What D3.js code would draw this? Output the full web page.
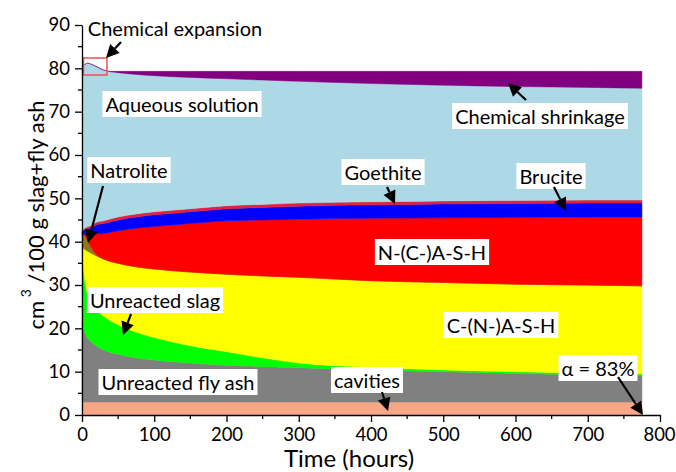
<!DOCTYPE html>
<html><head><meta charset="utf-8">
<script src="https://cdn.jsdelivr.net/npm/d3@7"></script>
<style>
html,body{margin:0;padding:0;background:#fff;}
svg{display:block;font-family:Lato,"Open Sans",sans-serif;}
</style></head>
<body><svg id="chart" width="676" height="472"></svg>
<script>
// Time points (hours)
const times      = [0, 2, 5, 8, 12, 20, 30, 40, 50, 75, 100, 150, 200, 250, 300, 400, 500, 600, 700, 775];
// Volume of each phase (cm3 / 100 g slag+fly ash), bottom to top
const cavities   = [3.0, 3.0, 3.0, 3.0, 3.0, 3.0, 3.0, 3.0, 3.0, 3.0, 3.0, 3.0, 3.0, 3.0, 3.0, 3.0, 3.0, 3.0, 3.0, 3.0];
const flyAsh     = [18.3, 17.0, 15.6, 14.7, 14.0, 12.9, 12.0, 11.4, 11.0, 10.2, 9.7, 9.0, 8.5, 8.2, 7.9, 7.4, 7.0, 6.6, 6.3, 6.1];
const slag       = [17.2, 14.0, 11.4, 10.3, 9.5, 8.4, 7.8, 7.3, 6.8, 5.9, 5.2, 4.0, 3.1, 2.0, 1.1, 0.6, 0.4, 0.4, 0.4, 0.4];
const cnash      = [0.0, 4.4, 8.1, 9.8, 10.9, 12.4, 13.2, 13.7, 14.2, 15.1, 15.8, 17.0, 17.9, 18.9, 19.8, 20.0, 20.2, 20.2, 20.3, 20.3];
const natrolite  = [3.0, 3.2, 3.0, 2.4, 1.4, 0.3, 0.0, 0.0, 0.0, 0.0, 0.0, 0.0, 0.0, 0.0, 0.0, 0.0, 0.0, 0.0, 0.0, 0.0];
const ncash      = [0.0, 0.1, 0.5, 1.3, 2.6, 4.8, 5.9, 6.8, 7.5, 8.9, 9.8, 11.2, 12.3, 12.9, 13.4, 14.4, 14.9, 15.4, 15.7, 15.9];
const brucite    = [0.6, 0.9, 1.2, 1.5, 1.8, 2.1, 2.3, 2.4, 2.5, 2.6, 2.7, 2.7, 2.8, 2.9, 3.0, 3.1, 3.2, 3.2, 3.2, 3.2];
const goethite   = [0.2, 0.3, 0.4, 0.5, 0.5, 0.6, 0.6, 0.7, 0.7, 0.7, 0.7, 0.7, 0.7, 0.7, 0.7, 0.7, 0.7, 0.7, 0.7, 0.7];
const aqueous    = [37.7, 37.7, 37.8, 37.7, 37.3, 35.9, 34.8, 33.9, 33.3, 32.2, 31.4, 30.3, 29.3, 28.7, 28.1, 27.3, 26.7, 26.3, 26.0, 25.8];
const shrinkage  = [0.0, 0.0, 0.0, 0.0, 0.0, 0.0, 0.0, 0.1, 0.3, 0.7, 1.0, 1.4, 1.7, 2.0, 2.3, 2.8, 3.2, 3.5, 3.7, 3.9];

const layerKeys   = ["cavities","flyAsh","slag","cnash","natrolite","ncash","brucite","goethite","aqueous","shrinkage"];
const layerSeries = [cavities, flyAsh, slag, cnash, natrolite, ncash, brucite, goethite, aqueous, shrinkage];
const layerColors = ["#f7a688","#808080","#00ff00","#ffff00","#8a7a10","#ff0000","#0000ff","#e0223c","#add8e6","#800080"];

const xTicks = [0,100,200,300,400,500,600,700,800];
const yTicks = [0,10,20,30,40,50,60,70,80,90];

const svg = d3.select("#chart");
const x = d3.scaleLinear().domain([0,800]).range([82,660]);
const y = d3.scaleLinear().domain([0,90]).range([415,25]);

const rows = times.map((t,i)=>{
  const r = {t};
  layerKeys.forEach((k,j)=>r[k]=layerSeries[j][i]);
  return r;
});
const stacked = d3.stack().keys(layerKeys)(rows);
const area = d3.area().x(d=>x(d.data.t)).y0(d=>y(d[0])).y1(d=>y(d[1])).curve(d3.curveMonotoneX);

svg.append("g").selectAll("path").data(stacked).join("path")
  .attr("d", area).attr("fill",(d,i)=>layerColors[i]).attr("stroke",(d,i)=>layerColors[i]).attr("stroke-width",0.5);

// red box for chemical expansion
svg.append("rect").attr("x",83.5).attr("y",58).attr("width",23.5).attr("height",17)
  .attr("fill","none").attr("stroke","#f05050").attr("stroke-width",1.5);

// axes
const xAxis = d3.axisBottom(x).tickValues(xTicks).tickSize(7).tickSizeOuter(0).tickFormat(d3.format("d"));
const gx = svg.append("g").attr("transform","translate(0,415)").call(xAxis);
const yAxis = d3.axisLeft(y).tickValues(yTicks).tickSize(7).tickSizeOuter(0).tickFormat(d3.format("d"));
const gy = svg.append("g").attr("transform","translate(82,0)").call(yAxis);
[gx,gy].forEach(g=>{
  g.select(".domain").attr("stroke","#000").attr("stroke-width",1.3);
  g.selectAll(".tick line").attr("stroke","#000").attr("stroke-width",1.3);
  g.selectAll(".tick text").attr("font-family","Lato, sans-serif").attr("font-size",18.5).attr("fill","#000");
});
gx.selectAll(".tick text").attr("dy","0.85em");
gx.selectAll(".tick text").filter(d=>d===800).attr("dx","-1");
gy.selectAll(".tick text").attr("dx","-2");
// minor ticks
const minorX = [50,150,250,350,450,550,650,750];
const minorY = [5,15,25,35,45,55,65,75,85];
svg.append("g").selectAll("line").data(minorX).join("line")
  .attr("x1",d=>x(d)).attr("x2",d=>x(d)).attr("y1",415).attr("y2",419).attr("stroke","#000").attr("stroke-width",1.3);
svg.append("g").selectAll("line").data(minorY).join("line")
  .attr("y1",d=>y(d)).attr("y2",d=>y(d)).attr("x1",82).attr("x2",78).attr("stroke","#000").attr("stroke-width",1.3);

// axis titles
svg.append("text").attr("x",349).attr("y",457).attr("text-anchor","middle").attr("dominant-baseline","central")
  .attr("font-size",24).text("Time (hours)");
const yt = svg.append("text").attr("transform","translate(35,215) rotate(-90)").attr("text-anchor","middle")
  .attr("dominant-baseline","central").attr("font-size",22);
yt.append("tspan").text("cm");
yt.append("tspan").attr("font-size",14).attr("dy",-10).text(" 3");
yt.append("tspan").attr("dy",10).text(" /100 g slag+fly ash");

// labels
const labels = [
  {t:"Chemical expansion", x:175, y:28, bg:false},
  {t:"Aqueous solution", x:182, y:104, bg:true},
  {t:"Chemical shrinkage", x:540, y:116, bg:true},
  {t:"Natrolite", x:129, y:170, bg:true},
  {t:"Goethite", x:383, y:172, bg:true},
  {t:"Brucite", x:551, y:176, bg:true},
  {t:"N-(C-)A-S-H", x:432, y:252, bg:true},
  {t:"Unreacted slag", x:155, y:300, bg:true},
  {t:"C-(N-)A-S-H", x:501, y:325, bg:true},
  {t:"Unreacted fly ash", x:178, y:382, bg:true},
  {t:"cavities", x:367, y:380, bg:true},
  {t:"\u03b1 = 83%", x:598, y:368, bg:true}
];
const lg = svg.append("g");
labels.forEach(l=>{
  const g = lg.append("g");
  const tx = g.append("text").attr("x",l.x).attr("y",l.y).attr("text-anchor","middle")
    .attr("dominant-baseline","central").attr("font-size",20).attr("fill","#000").text(l.t);
  if(l.bg){
    const b = tx.node().getBBox();
    g.insert("rect","text").attr("x",b.x-3).attr("y",b.y-1).attr("width",b.width+6).attr("height",b.height+2).attr("fill","#fff");
  }
});

// arrows
const arrows = [
  [121,42,106,58],
  [526,100,508,83],
  [103,186,88,243],
  [387,187,395,204],
  [554,187,566,211],
  [131,314,123,335],
  [382,392,388,411],
  [618,377,643,415]
];
const ag = svg.append("g");
arrows.forEach(a=>{
  const [x1,y1,x2,y2] = a;
  const ang = Math.atan2(y2-y1,x2-x1);
  const L = 13, W = 6.5;
  const bx = x2 - L*Math.cos(ang), by = y2 - L*Math.sin(ang);
  ag.append("line").attr("x1",x1).attr("y1",y1).attr("x2",bx).attr("y2",by).attr("stroke","#000").attr("stroke-width",2.2);
  const px = -Math.sin(ang)*W, py = Math.cos(ang)*W;
  ag.append("path").attr("d",`M${x2},${y2}L${bx+px},${by+py}L${bx-px},${by-py}Z`).attr("fill","#000");
});
</script></body></html>
